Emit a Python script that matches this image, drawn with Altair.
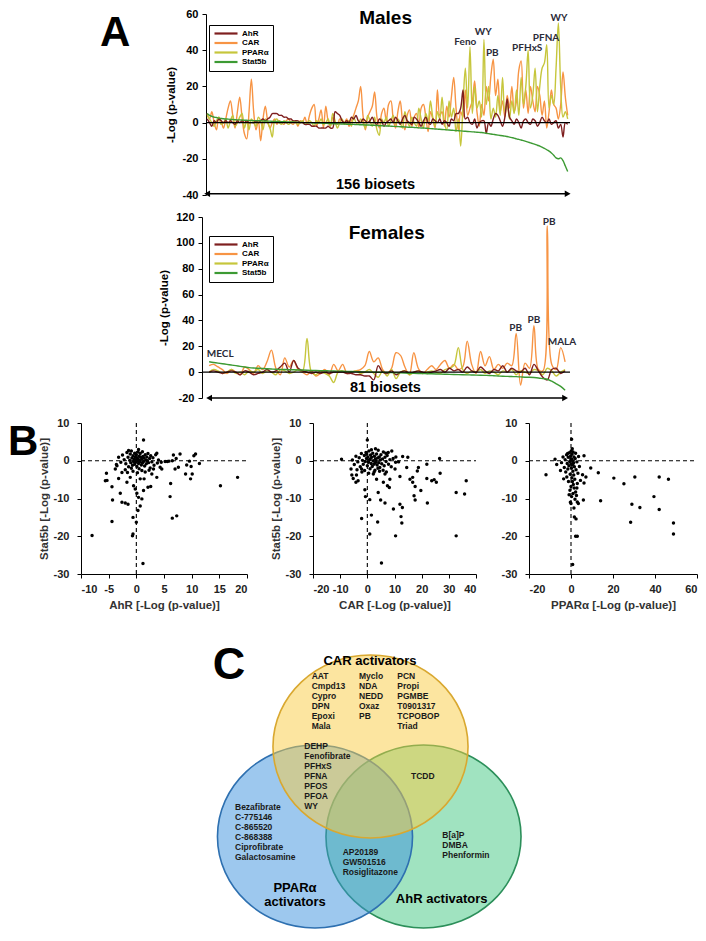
import altair as alt
import pandas as pd

FONT = "Liberation Sans"
ANNOT_FONT = "Lato"

SERIES = ["AhR", "CAR", "PPARα", "Stat5b"]
SERIES_COLORS = ["#7E1F1F", "#F79444", "#C6C63C", "#3C9A33"]

# ---------------- Panel A : males (156 biosets) ----------------
male_car = [5, 2, 6, 0, -4, 3, 1, -3, 2, 8,
            12, 4, -3, 6, 14, 3, -6, -9, 6, 24,
            6, -4, 1, -10, 2, 9, 1, -3, 0, 2,
            -1, 1, 0, -1, 1, 2, 0, -1, 1, -2,
            1, 0, 3, -1, 4, 8, 10, -2, 2, 7,
            -3, 9, 1, -2, 3, 0, -1, 2, 1, 0,
            2, -2, 1, 4, 8, 12, 20, 4, -4, 3,
            6, 9, 17, 3, -3, 5, 8, 1, 10, 12,
            2, -3, 6, 12, 1, -4, 4, 7, -2, 3,
            5, -3, 8, 10, 3, -5, 6, 2, -3, 18,
            4, 6, -2, 9, 3, 14, 25, 8, -4, 6,
            3, 18, 4, 8, 12, 23, 6, -2, 10, 4,
            20, 12, 26, 35, 15, 24, 6, 12, 3, 15,
            8, 20, 6, 12, 29, 34, 8, 18, 5, 20,
            12, 6, 20, 15, 4, 12, -3, 6, 18, 10,
            8, 2, 10, 28, 14, 4]
male_ppar = [4, 2, 0, -2, 1, 3, -1, 0, 2, -3,
             1, 4, -2, 0, 3, 5, -3, 1, -4, 2,
             0, -2, 3, 1, -4, 2, 0, -3, -8, 1,
             2, 0, -1, 1, 0, -1, 0, 1, 0, -1,
             0, 1, -1, 0, 1, 0, -2, 1, 0, 2,
             -1, 0, 2, -2, 5, 1, -3, 0, 2, -1,
             0, 1, -2, 3, 0, -1, 2, 0, -3, 4,
             1, -2, 3, -4, -7, 2, 0, 3, -2, 1,
             4, -1, 2, 0, -3, 6, 1, -2, 3, 0,
             -2, 8, 2, -3, 5, 1, 12, 3, -2, 6,
             2, 14, 0, -4, 12, 3, 8, -5, 2, -13,
             10, 30, 8, 42, 5, 20, 8, 12, 3, 46,
             10, 20, 2, 8, 3, 15, 4, 25, 6, 10,
             2, 12, 5, 18, 4, 25, 10, 20, 40, 8,
             15, 30, 6, 20, 30, 33, 43, 8, 15, 10,
             30, 55, 20, 3, 6, 2]
male_ahr = [2, 0, -2, 1, 0, 2, 1, 0, 1, 0,
            1, 0, -1, 1, 0, 1, 0, 1, 0, 0,
            0, 1, 0, 1, 2, 1, 2, 3, 5, 5,
            5, 4, 4, 3, 3, 2, 2, 1, 1, 1,
            0, 0, -1, -1, -1, -2, -2, -2, -3, -3,
            -3, -3, -2, -3, -3, 6, 5, 4, 1, 0,
            1, 0, 3, 2, 4, 1, 0, 2, 1, 0,
            1, 3, 0, -1, 2, 1, -2, 0, 1, 2,
            0, 3, 1, -1, 2, 4, 1, 0, -1, 3,
            2, 0, -2, 1, 3, 0, -1, 2, 1, 0,
            2, -1, 1, 0, -2, 2, 1, 5, 5, 8,
            18, 2, 3, 0, -1, 2, -3, 0, 1, 1,
            -6, 0, -2, 2, 5, 4, 1, -2, 3, 13,
            3, 1, -1, 2, 0, -3, 1, 2, 0, -1,
            2, 1, -2, 0, 3, 1, 0, 2, -1, 0,
            1, -3, -1, -8, 0, -1]
male_stat5b = [5, 4, 3.5, 3, 2.8, 2.5, 2.3, 2.1, 2, 1.9,
               1.8, 1.7, 1.6, 1.5, 1.5, 1.4, 1.3, 1.3, 1.2, 1.2,
               1.1, 1.1, 1, 1, 0.9, 0.9, 0.8, 0.8, 0.7, 0.7,
               0.6, 0.6, 0.5, 0.5, 0.4, 0.4, 0.3, 0.3, 0.2, 0.2,
               0.1, 0.1, 0, 0, -0.1, -0.1, -0.2, -0.2, -0.3, -0.3,
               -0.4, -0.4, -0.5, -0.5, -0.6, -0.6, -0.7, -0.7, -0.8, -0.8,
               -0.9, -0.9, -1, -1, -1.1, -1.1, -1.2, -1.2, -1.3, -1.3,
               -1.4, -1.5, -1.5, -1.6, -1.7, -1.7, -1.8, -1.9, -1.9, -2,
               -2.1, -2.1, -2.2, -2.3, -2.3, -2.4, -2.5, -2.6, -2.6, -2.7,
               -2.8, -2.9, -3, -3, -3.1, -3.2, -3.3, -3.4, -3.5, -3.6,
               -3.7, -3.8, -3.9, -4, -4.1, -4.2, -4.3, -4.4, -4.5, -4.6,
               -4.7, -4.8, -4.9, -5, -5.1, -5.2, -5.3, -5.4, -5.5, -5.7,
               -5.9, -6.1, -6.3, -6.5, -6.7, -6.9, -7.1, -7.3, -7.5, -7.7,
               -8, -8.3, -8.6, -9, -9.3, -9.6, -10, -10.4, -10.8, -11.2,
               -11.6, -12, -12.5, -13, -13.6, -14.2, -15, -15.8, -16.8, -18,
               -19.5, -20, -19.5, -21, -24, -27]
male_labels = ["Feno", "WY", "PB", "PFHxS", "PFNA", "WY"]
male_label_x = [112, 119.7, 123.6, 138.6, 146.7, 152.3]
male_label_y = [44.5, 50, 38.5, 41.2, 46.7, 57.8]

# ---------------- Panel A : females (81 biosets) ----------------
female_car = [5, 6, 4, 2, -1, 2, 0, -2, 4, 2,
              -1, 5, 2, 8, 17, 3, -2, 11, 4, 9,
              2, 0, -2, 1, -3, -1, 2, -2, 6, 1,
              6, -1, 0, 1, 2, 5, 16, 8, 11, 2,
              -1, 3, 15, 13, 4, -2, 15, 3, -1, 2,
              5, 2, 6, 9, 3, 6, 2, 4, 24, 6,
              -1, 16, 5, 12, 2, 6, 3, 7, 5, 30,
              -10, 7, 3, 36, 2, 1, 113, 6, 2, 19,
              8]
female_ppar = [0, 2, 1, -1, 0, 2, -1, 0, -2, 1,
               0, 2, -1, 1, 0, -2, 2, 1, -1, 0,
               2, 1, 26, 0, -2, 1, -1, -3, -8, 0,
               1, -1, 0, 1, -1, 0, 2, -1, -4, 1,
               -3, 2, -5, 0, 1, -2, 0, 1, -1, 0,
               1, 0, -1, 2, 3, 5, 19, 2, -1, 1,
               0, 2, -1, 1, 0, -2, 1, 0, 2, -2,
               1, 0, -1, 2, 1, -2, 3, 1, -3, 0,
               2]
female_ahr = [0, 1, 0, -1, 0, 1, 0, -2, 1, 0,
              -2, -1, 0, 2, 0, 1, 4, 7, 0, 9,
              3, 1, 0, -1, 0, -1, 0, -1, 0, 0,
              0, -1, -1, -2, -2, -3, -3, -6, 5, 0,
              -1, 1, -2, 0, 1, -1, 0, 1, 0, -1,
              0, 1, 2, 0, 3, 1, 2, 0, 4, 1,
              0, 4, 1, -1, 2, 1, 5, 0, 3, 1,
              0, 3, -2, 6, 1, -4, -6, 2, 3, -1,
              1]
female_stat5b = [8, 7.5, 7, 6.5, 6, 5.5, 5, 4.5, 4, 3.5,
                 3.2, 3, 2.8, 2.6, 2.4, 2.2, 2.1, 2, 1.9, 1.8,
                 1.7, 1.6, 1.5, 1.4, 1.3, 1.2, 1.1, 1, 0.9, 0.8,
                 0.7, 0.6, 0.5, 0.4, 0.3, 0.2, 0.1, 0, -0.1, -0.2,
                 -0.3, -0.4, -0.5, -0.6, -0.7, -0.8, -0.9, -1, -1.1, -1.2,
                 -1.3, -1.4, -1.5, -1.6, -1.7, -1.8, -1.9, -2, -2.1, -2.2,
                 -2.3, -2.4, -2.5, -2.6, -2.8, -3, -3.2, -3.3, -3.4, -3.5,
                 -3.7, -3.9, -4, -4.2, -4.5, -5, -5.5, -7, -9, -11,
                 -14]
female_labels = ["MECL", "PB", "PB", "PB", "MALA"]
female_label_x = [3.5, 69.9, 74, 77.4, 80.3]
female_label_y = [14, 34.1, 40.6, 116, 23.3]

# ---------------- Panel B : scatter points (x, Stat5b) ----------------
ahr_pts = [(-2.5, 1.5), (-2.2, 0.3), (-1.9, -0.8), (-1.7, 2.2), (-1.5, 0.9), (-1.4, -1.6), (-1.2, 0.1),
           (-1.1, 1.8), (-1.0, -0.5), (-0.9, 2.6), (-0.8, 0.7), (-0.7, -1.2), (-0.6, 1.3), (-0.5, -0.2),
           (-0.4, 0.4), (-0.3, 2.0), (-0.3, -0.9), (-0.2, 1.0), (-0.1, -0.4), (0.0, 0.2), (0.0, 1.6),
           (0.1, -1.5), (0.1, 0.8), (0.2, -0.1), (0.3, 2.3), (0.3, 0.5), (0.4, -0.7), (0.5, 1.2),
           (0.5, -2.1), (0.6, 0.1), (0.7, 1.9), (0.7, -0.3), (0.8, 0.9), (0.9, -1.1), (1.0, 0.4),
           (1.1, 2.4), (1.1, -0.6), (1.2, 1.1), (1.3, -0.2), (1.4, 0.7), (1.5, -1.4), (1.6, 1.6),
           (1.7, 0.2), (1.8, -0.8), (1.9, 1.0), (2.0, 0.0), (2.1, 1.9), (2.2, -0.5), (2.4, 0.6),
           (2.5, -1.9), (2.6, 1.3), (2.8, -0.3), (3.0, 0.8), (3.2, -1.2), (3.5, 1.6), (3.8, -0.6),
           (-2.8, -0.4), (-2.0, -2.4), (-0.6, -2.8), (0.2, -3.2), (1.0, -2.6), (-3.2, 0.9), (-3.6, -1.0),
           (0.4, 3.0), (-0.9, -2.0), (1.6, -3.0), (2.3, -2.5), (4.0, 0.2), (4.5, -0.4), (-1.6, -3.1),
           (-8.0, -19.8), (-4.4, -16.1), (-0.6, -19.4), (-0.7, -19.9), (1.2, -27.2), (0.0, -16.3),
           (-0.6, -15.0), (0.3, -13.2), (0.7, -12.0), (6.5, -15.2), (7.3, -14.6), (6.1, -9.5),
           (6.2, -6.0), (15.2, -6.6), (18.3, -4.4), (-5.6, -5.3), (-5.3, -5.2), (-5.4, -3.3),
           (-4.4, -6.9), (-4.3, -10.4), (-2.9, -8.6), (-2.6, -11.0), (-2.0, -11.2), (-1.5, -11.5),
           (-3.2, -4.7), (-3.8, -2.2), (-3.5, -1.3), (-2.6, -3.1), (-1.7, -5.7), (-1.1, -4.4),
           (-0.5, -6.6), (-0.2, -7.5), (0.1, -8.6), (0.4, -9.7), (1.0, -10.1), (1.3, -7.9),
           (2.1, -7.0), (2.6, -6.8), (0.7, -4.8), (1.4, -4.8), (2.8, -3.5), (3.1, -2.2), (3.7, -4.4),
           (4.3, -1.7), (4.6, -2.2), (5.2, -0.2), (5.6, -0.2), (5.9, -0.1), (6.5, 0.0), (6.7, 1.5),
           (7.9, 1.8), (7.6, -1.7), (7.0, -2.2), (9.1, -1.1), (9.6, -0.1), (9.9, -1.5), (10.1, -3.5),
           (9.8, -4.8), (8.9, -3.5), (10.4, 1.3), (10.7, 1.8), (11.4, -0.7), (7.2, 0.6), (1.3, 5.5),
           (-1.4, 2.7), (3.7, 2.0)]
car_pts = [(-5.5, 0.2), (-4.8, -1.0), (-4.2, 1.2), (-3.5, -0.3), (-3.0, 0.8), (-2.6, -1.6), (-2.2, 1.9),
           (-1.8, 0.1), (-1.5, -0.9), (-1.1, 1.4), (-0.8, -0.2), (-0.5, 2.2), (-0.3, 0.6), (0.0, -1.3),
           (0.2, 1.0), (0.4, -0.4), (0.6, 2.6), (0.8, 0.3), (1.0, -2.1), (1.2, 1.5), (1.4, -0.7),
           (1.6, 0.9), (1.8, -1.5), (2.0, 2.0), (2.2, 0.0), (2.4, -0.9), (2.6, 1.2), (2.8, -2.5),
           (3.0, 0.5), (3.2, -0.2), (3.4, 1.8), (3.6, -1.1), (3.8, 0.7), (4.0, 2.8), (4.2, -0.5),
           (4.4, 1.0), (4.6, -1.8), (4.8, 0.2), (5.0, 1.6), (5.3, -0.8), (5.6, 0.5), (5.9, 2.3),
           (6.2, -1.3), (6.5, 0.9), (6.9, -0.2), (7.3, 1.4), (7.8, -0.9), (8.3, 0.3), (8.8, -1.6),
           (9.5, 0.6), (-6.0, -2.2), (-2.0, -3.0), (0.5, -3.3), (2.5, -3.0), (4.5, -2.8), (1.5, 2.9),
           (3.0, 3.2), (-1.0, -2.6), (0.3, -0.3), (1.1, 0.5), (2.9, -0.6), (3.9, -2.0), (5.8, -2.5),
           (-0.2, 1.7), (6.8, 2.0), (9.0, 2.6), (10.5, 1.0), (11.5, -0.3), (-3.8, -2.4), (7.0, -3.0),
           (0.0, 5.5), (-9.5, 0.4), (5.2, -27.1), (0.9, -19.4), (10.4, -19.9), (32.7, -19.9),
           (-2.1, -15.3), (1.5, -14.4), (3.8, -16.2), (9.6, -12.8), (12.0, -11.5), (12.9, -12.4),
           (12.4, -14.8), (12.7, -16.5), (-0.7, -9.5), (0.9, -10.3), (4.9, -10.4), (6.5, -11.2),
           (17.2, -9.3), (17.6, -10.4), (22.1, -11.2), (19.7, -7.9), (17.6, -6.8), (16.7, -4.4),
           (21.9, -4.7), (23.7, -5.3), (24.6, -5.0), (25.4, -5.7), (26.8, -3.3), (26.6, 0.6),
           (32.7, -8.4), (35.8, -8.8), (36.4, -5.3), (21.9, -0.9), (18.8, -1.8), (18.4, -2.7),
           (14.5, -1.8), (14.9, 0.9), (13.0, 1.1), (10.4, -0.4), (10.2, -2.2), (12.0, -4.2),
           (15.7, -4.9), (16.7, -5.7), (8.3, -4.9), (7.4, -6.6), (8.1, -7.1), (4.0, -8.4), (3.4, -4.9),
           (5.9, -5.7), (6.5, -3.5), (2.2, -3.5), (7.7, 2.2), (-4.0, -3.8), (-4.2, -5.7), (-5.2, -4.7),
           (-5.7, -3.8), (-3.4, -5.3), (-0.9, -7.7), (-2.1, -2.2)]
ppar_pts = [(-4.5, -0.5), (-3.8, 1.0), (-3.2, -1.8), (-2.8, 0.3), (-2.5, -3.0), (-2.1, 1.6), (-1.8, -0.7),
            (-1.5, -2.2), (-1.3, 0.9), (-1.0, -1.3), (-0.8, 2.1), (-0.6, -0.2), (-0.4, -3.6), (-0.2, 1.2),
            (0.0, -0.8), (0.1, 2.6), (0.2, -2.0), (0.3, 0.4), (0.4, -4.5), (0.5, 1.7), (0.6, -1.1),
            (0.7, -5.5), (0.8, 0.0), (0.9, -2.8), (1.0, 2.3), (1.1, -6.3), (1.2, -0.5), (1.3, -3.8),
            (1.4, 1.0), (1.5, -7.2), (1.6, -1.6), (1.8, -4.9), (2.0, 0.6), (2.2, -8.3), (2.4, -2.4),
            (2.6, -9.2), (2.8, -0.3), (3.0, -6.0), (3.3, -3.3), (3.6, 1.1), (4.0, -1.5), (4.5, -5.2),
            (-0.5, -7.8), (0.3, -9.5), (-1.2, -5.5), (1.9, -10.2), (-2.0, -4.3), (0.0, -6.8), (-0.9, -9.0),
            (1.0, -8.7), (-5.0, -2.6), (-3.5, -4.8), (2.8, -7.2), (0.6, 3.2), (-0.3, -11.0), (1.4, -12.5),
            (-1.6, 1.9), (2.2, 2.0), (-0.1, 0.5), (0.9, -0.9),
            (0.3, 5.7), (-11.9, -3.7), (0.8, -27.5), (2.2, -20.0), (3.0, -20.0), (1.6, -14.9),
            (2.4, -15.4), (0.0, -11.3), (3.0, -10.9), (3.5, -11.3), (5.9, -10.4), (14.1, -10.6),
            (7.1, -4.3), (9.4, -1.9), (13.0, -3.2), (20.4, -4.6), (25.2, -6.1), (30.4, -4.3),
            (42.0, -4.3), (46.4, -4.9), (39.5, -9.5), (29.0, -11.5), (32.8, -12.4), (42.0, -12.9),
            (28.4, -16.3), (48.8, -16.5), (48.8, -19.4), (6.2, -5.9), (5.5, -3.7), (6.2, 1.3),
            (-7.6, 0.4), (-6.8, -1.0)]

# ---------------- Panel C : Venn diagram ----------------
venn_sets = ["AhR activators", "PPARα activators", "CAR activators"]   # bottom -> top
venn_cx = [342.5, 234, 289.5]
venn_cy = [245.5, 245.5, 155.5]
venn_fill = ["#41C781", "#3B91DD", "#F9CB41"]
venn_edge = ["#2C8F5A", "#2E70B0", "#D9A830"]
venn_groups = [
    (230.7, 85, ["AAT", "Cmpd13", "Cypro", "DPN", "Epoxi", "Mala"]),
    (278, 85, ["Myclo", "NDA", "NEDD", "Oxaz", "PB"]),
    (316.3, 85, ["PCN", "Propi", "PGMBE", "T0901317", "TCPOBOP", "Triad"]),
    (223.3, 154.7, ["DEHP", "Fenofibrate", "PFHxS", "PFNA", "PFOS", "PFOA", "WY"]),
    (330, 185, ["TCDD"]),
    (154, 216.3, ["Bezafibrate", "C-775146", "C-865520", "C-868388", "Ciprofibrate", "Galactosamine"]),
    (361.3, 244, ["B[a]P", "DMBA", "Phenformin"]),
    (261.7, 261.3, ["AP20189", "GW501516", "Rosiglitazone"]),
]
venn_titles = ["CAR activators", "PPARα", "activators", "AhR activators"]
venn_title_x = [289, 214, 214, 360.7]
venn_title_y = [69.7, 297.3, 311.3, 308]
# slightly wide ellipse outline (unit path, scaled by the symbol size)
ELLIPSE = "M-1.066,0A1.066,1,0,1,0,1.066,0A1.066,1,0,1,0,-1.066,0Z"
VENN_RY = 91.5

# ---------------- layout frame (one view, panels placed by scale ranges) ----------------
W, H = 690, 922


def hyphen_labels():
    return "'' + datum.value"


AX = dict(grid=False, domainColor="black", tickColor="black", tickSize=4, labelFont=FONT,
          labelFontSize=11, labelFontWeight="bold", labelExpr=hyphen_labels(), titleFont=FONT,
          titleFontWeight="bold")


def line_panel(vals, n, xdom, xrange, ydom, yrange, yticks, title, title_x, title_y,
               labels, lab_x, lab_y, arrow_y, arrow_text, arrow_tx, arrow_ty, legend_xy):
    rows = []
    for name in ["CAR", "PPARα", "AhR", "Stat5b"]:
        for i, v in enumerate(vals[name]):
            rows.append({"idx": i + 1, "series": name, "value": v})
    df = pd.DataFrame(rows)
    xsc = alt.Scale(domain=xdom, range=xrange, nice=False, zero=False)
    ysc = alt.Scale(domain=ydom, range=yrange, nice=False, zero=False)
    X = alt.X("idx:Q", scale=xsc, axis=None)
    X2 = alt.X2("idx2:Q")
    Yp = alt.Y("value:Q", scale=ysc)
    Ya = alt.Y("value:Q", scale=ysc, axis=alt.Axis(
        orient="left", offset=-xrange[0], values=yticks, title="-Log (p-value)", labelColor="black",
        labelPadding=4, titleFontSize=11.5, titleColor="black", titlePadding=6, **AX))
    lines = alt.Chart(df).mark_line(interpolate="catmull-rom", strokeWidth=1.4).encode(
        x=X, y=Ya,
        color=alt.Color("series:N", scale=alt.Scale(domain=SERIES, range=SERIES_COLORS),
                        legend=alt.Legend(title=None, orient="none", legendX=legend_xy[0], legendY=legend_xy[1],
                                          direction="vertical", fillColor="white", strokeColor="black",
                                          padding=4, labelFont=FONT, labelFontSize=8, labelFontWeight="bold",
                                          labelColor="black", symbolType="M-1,0L6.67,0", symbolSize=36,
                                          symbolStrokeWidth=2.2, rowPadding=0.5, labelOffset=20)))
    zero = alt.Chart(pd.DataFrame({"idx": [xdom[0]], "idx2": [xdom[1]], "value": [0]})).mark_rule(
        color="black", strokeWidth=1.3).encode(x=X, x2=X2, y=Yp)
    arrow = alt.Chart(pd.DataFrame({"idx": [1], "idx2": [n], "value": [arrow_y]})).mark_rule(
        color="black", strokeWidth=1.5).encode(x=X, x2=X2, y=Yp)
    head_l = alt.Chart(pd.DataFrame({"idx": [1], "value": [arrow_y]})).mark_point(
        shape="triangle-left", filled=True, size=45, color="black", opacity=1).encode(x=X, y=Yp)
    head_r = alt.Chart(pd.DataFrame({"idx": [n], "value": [arrow_y]})).mark_point(
        shape="triangle-right", filled=True, size=45, color="black", opacity=1).encode(x=X, y=Yp)
    atext = alt.Chart(pd.DataFrame({"idx": [arrow_tx], "value": [arrow_ty], "t": [arrow_text]})).mark_text(
        font=FONT, fontSize=14.5, fontWeight="bold", color="black").encode(x=X, y=Yp, text="t:N")
    ttext = alt.Chart(pd.DataFrame({"idx": [title_x], "value": [title_y], "t": [title]})).mark_text(
        font=FONT, fontSize=19, fontWeight="bold", color="black").encode(x=X, y=Yp, text="t:N")
    ann = alt.Chart(pd.DataFrame({"idx": lab_x, "value": lab_y, "t": labels})).mark_text(
        font=ANNOT_FONT, fontSize=10, fontWeight="bold", color="#2B2B38").encode(x=X, y=Yp, text="t:N")
    return alt.layer(lines, zero, arrow, head_l, head_r, atext, ttext, ann)


def scatter_panel(pts, xtitle, xdom, xrange, xticks, ytitle, yrange):
    df = pd.DataFrame({"x": [p[0] for p in pts], "y": [p[1] for p in pts]})
    xsc = alt.Scale(domain=xdom, range=xrange, nice=False, zero=False)
    ysc = alt.Scale(domain=[-30, 10], range=yrange, nice=False, zero=False)
    X = alt.X("x:Q", scale=xsc, axis=alt.Axis(
        orient="bottom", offset=yrange[0] - H, values=xticks, title=xtitle, labelPadding=5,
        titlePadding=5, labelColor="#222", titleFontSize=11.5, titleColor="#333", **AX))
    yargs = dict(orient="left", offset=-xrange[0], values=[-30, -20, -10, 0, 10], labelPadding=8,
                 labelColor="#222", titleFontSize=11.5, titleColor="#333", **AX)
    if ytitle:
        yax = alt.Axis(title=ytitle, titlePadding=4, **yargs)
    else:
        yax = alt.Axis(title=None, **yargs)
    Y = alt.Y("y:Q", scale=ysc, axis=yax)
    pts_l = alt.Chart(df).mark_circle(size=12, color="black", opacity=1).encode(x=X, y=Y)
    vline = alt.Chart(pd.DataFrame({"x": [0], "y": [-30], "y2": [10]})).mark_rule(
        color="black", strokeDash=[4, 3], strokeWidth=1.1).encode(
        x=alt.X("x:Q", scale=xsc), y=alt.Y("y:Q", scale=ysc), y2=alt.Y2("y2:Q"))
    hline = alt.Chart(pd.DataFrame({"x": [xdom[0]], "x2": [xdom[1]], "y": [0]})).mark_rule(
        color="black", strokeDash=[4, 3], strokeWidth=1.1).encode(
        x=alt.X("x:Q", scale=xsc), x2=alt.X2("x2:Q"), y=alt.Y("y:Q", scale=ysc))
    return alt.layer(pts_l, vline, hline)


males = line_panel({"AhR": male_ahr, "CAR": male_car, "PPARα": male_ppar, "Stat5b": male_stat5b},
                   156, [0.5, 157], [198, 562], [-40, 60], [186, 5], [-40, -20, 0, 20, 40, 60],
                   "Males", 77.7, 57.8, male_labels, male_label_x, male_label_y,
                   -39.3, "156 biosets", 73.4, -34.3, (201, 16))
females = line_panel({"AhR": female_ahr, "CAR": female_car, "PPARα": female_ppar, "Stat5b": female_stat5b},
                     81, [-0.6, 82.1], [194, 562], [-20, 120], [389, 208],
                     [-20, 0, 20, 40, 60, 80, 100, 120],
                     "Females", 40.9, 107.6, female_labels, female_label_x, female_label_y,
                     -20, "81 biosets", 40.6, -12.3, (201, 227))

s1 = scatter_panel(ahr_pts, "AhR [-Log (p-value)]", [-10, 20], [73, 239], [-10, -5, 0, 5, 10, 15, 20],
                   "Stat5b [-Log (p-value)]", [565, 414])
s2 = scatter_panel(car_pts, "CAR [-Log (p-value)]", [-20, 40], [305, 468], [-20, -10, 0, 10, 20, 30, 40],
                   "Stat5b [-Log (p-value)]", [565, 414])
s3 = scatter_panel(ppar_pts, "PPARα [-Log (p-value)]", [-20, 60], [521, 689], [-20, 0, 20, 40, 60],
                   None, [565, 414])

# Venn
vdf = pd.DataFrame({"name": venn_sets, "vx": venn_cx, "vy": venn_cy, "ord": [0, 1, 2]})
VX = alt.X("vx:Q", scale=alt.Scale(domain=[0, 460], range=[73, 533], nice=False, zero=False), axis=None)
VY = alt.Y("vy:Q", scale=alt.Scale(domain=[0, 340], range=[582, 922], nice=False, zero=False), axis=None)
circles = alt.Chart(vdf).mark_point(shape=ELLIPSE, filled=True, size=(2 * VENN_RY) ** 2, opacity=1,
                                    fillOpacity=0.5, strokeWidth=1.6, strokeOpacity=1).encode(
    x=VX, y=VY,
    fill=alt.Fill("name:N", scale=alt.Scale(domain=venn_sets, range=venn_fill), legend=None),
    stroke=alt.Stroke("name:N", scale=alt.Scale(domain=venn_sets, range=venn_edge), legend=None),
    order=alt.Order("ord:Q"))
name_rows = []
for gx, gy, names in venn_groups:
    for k, nm in enumerate(names):
        name_rows.append({"vx": gx, "vy": gy + 10 * k, "t": nm})
names_l = alt.Chart(pd.DataFrame(name_rows)).mark_text(
    font=FONT, fontSize=8.5, fontWeight="bold", color="#1A1A1A", align="left", baseline="middle").encode(
    x=VX, y=VY, text="t:N")
titles_l = alt.Chart(pd.DataFrame({"vx": venn_title_x, "vy": venn_title_y, "t": venn_titles})).mark_text(
    font=FONT, fontSize=13, fontWeight="bold", color="black", align="center", baseline="middle").encode(
    x=VX, y=VY, text="t:N")
letter_c = alt.Chart(pd.DataFrame({"vx": [148], "vy": [73.5], "t": ["C"]})).mark_text(
    font=FONT, fontSize=45, fontWeight="bold", color="black", align="center", baseline="middle").encode(
    x=VX, y=VY, text="t:N")
venn = alt.layer(circles, names_l, titles_l, letter_c)

# Panel letters A and B
letter_a = alt.Chart(pd.DataFrame({"t": ["A"]})).mark_text(
    font=FONT, fontSize=42, fontWeight="bold", color="black", align="left", baseline="top").encode(
    x=alt.value(92), y=alt.value(4), text="t:N")
letter_b = alt.Chart(pd.DataFrame({"t": ["B"]})).mark_text(
    font=FONT, fontSize=42, fontWeight="bold", color="black", align="left", baseline="top").encode(
    x=alt.value(0), y=alt.value(413), text="t:N")

chart = alt.layer(males, females, s1, s2, s3, venn, letter_a, letter_b).resolve_scale(
    x="independent", y="independent", color="independent", fill="independent", stroke="independent"
).resolve_axis(x="independent", y="independent").resolve_legend(color="independent").properties(
    width=W, height=H, padding=0, background="white").configure_view(stroke=None)

chart.save("out.html", embed_options={"renderer": "svg", "actions": False})
